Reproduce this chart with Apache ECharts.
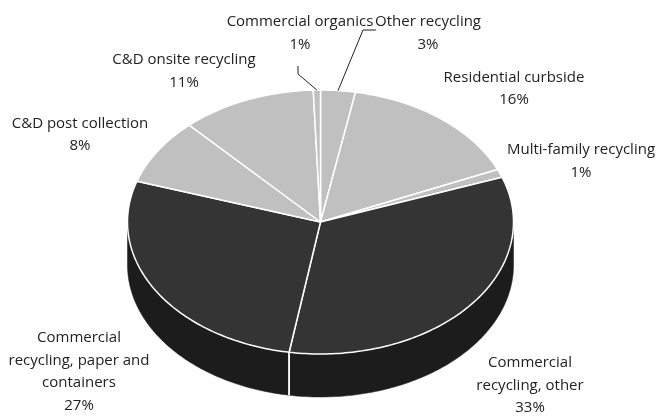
<!DOCTYPE html>
<html>
<head>
<meta charset="utf-8">
<script src="https://cdn.jsdelivr.net/npm/echarts@6/dist/echarts.min.js"></script>
<style>
  html, body { margin: 0; padding: 0; background: #ffffff; }
  #chart { width: 656px; height: 417px; }
</style>
</head>
<body>
<div id="chart"></div>
<script>
// Recycling tonnage by program, share of total (clockwise from 12 o'clock)
const categories = [
  'Other recycling',
  'Residential curbside',
  'Multi-family recycling',
  'Commercial recycling, other',
  'Commercial recycling, paper and containers',
  'C&D post collection',
  'C&D onsite recycling',
  'Commercial organics'
];
const labelText = [
  'Other recycling',
  'Residential curbside',
  'Multi-family recycling',
  'Commercial\nrecycling, other',
  'Commercial\nrecycling, paper and\ncontainers',
  'C&D post collection',
  'C&D onsite recycling',
  'Commercial organics'
];
const shares = [2.9, 15.6, 1.0, 33.1, 27.4, 8.1, 11.3, 0.6];
const shade = ['light', 'light', 'light', 'dark', 'dark', 'light', 'light', 'light'];

// ---- layout / styling ----
const PIE = { cx: 320.5, cy: 222, rx: 193, ry: 132, depth: 43 };
const COLORS = {
  light: { top: '#c0c0c0', side: '#8c8c8c' },
  dark:  { top: '#343434', side: '#1c1c1c' }
};
const LABEL_AT = [[428, 33], [514, 88.5], [581, 161], [530, 385.5], [79, 371.5], [80, 134.5], [184, 71], [300, 33]];
const LEADER_BEND = { 0: [[376, 30], [363, 30]], 7: [[298, 66], [298, 74]] };
const FONT = '15px "Open Sans", "Noto Sans", sans-serif';

const total = shares.reduce((a, b) => a + b, 0);
const starts = [];
let acc = 0;
shares.forEach(v => { starts.push(acc / total * Math.PI * 2); acc += v; });
const ends = starts.map((s, i) => s + shares[i] / total * Math.PI * 2);

function pt(theta, dy) {
  return [PIE.cx + PIE.rx * Math.sin(theta), PIE.cy - PIE.ry * Math.cos(theta) + (dy || 0)];
}
function arc(a0, a1, dy) {
  const n = Math.max(2, Math.ceil((a1 - a0) / (Math.PI / 180)));
  const out = [];
  for (let k = 0; k <= n; k++) out.push(pt(a0 + (a1 - a0) * k / n, dy));
  return out;
}

function renderSlice(params, api) {
  const i = params.dataIndex;
  const a = starts[i], b = ends[i];
  const col = COLORS[shade[i]];
  const children = [];

  // front wall (only the part facing the viewer, 90°..270°)
  const w0 = Math.max(a, Math.PI / 2), w1 = Math.min(b, Math.PI * 1.5);
  if (w1 > w0) {
    const top = arc(w0, w1, 0);
    const bottom = arc(w0, w1, PIE.depth).reverse();
    children.push({
      type: 'polygon', z2: 0,
      shape: { points: top.concat(bottom) },
      style: { fill: col.side, stroke: col.side, lineWidth: 0.5 }
    });
    [a, b].forEach(t => {
      if (t > Math.PI / 2 + 1e-6 && t < Math.PI * 1.5 - 1e-6) {
        const p = pt(t, 0), q = pt(t, PIE.depth);
        children.push({
          type: 'line', z2: 5,
          shape: { x1: p[0], y1: p[1], x2: q[0], y2: q[1] },
          style: { stroke: '#ffffff', lineWidth: 1.5 }
        });
      }
    });
  }

  // top face
  children.push({
    type: 'polygon', z2: 10,
    shape: { points: [[PIE.cx, PIE.cy]].concat(arc(a, b, 0)) },
    style: { fill: col.top, stroke: '#ffffff', lineWidth: 1.5, lineJoin: 'round' }
  });

  // label
  const pct = Math.round(api.value(0) / total * 100) + '%';
  children.push({
    type: 'text', z2: 20,
    x: LABEL_AT[i][0], y: LABEL_AT[i][1],
    style: {
      text: labelText[i] + '\n' + pct,
      font: FONT, fill: '#222222',
      align: 'center', verticalAlign: 'middle', lineHeight: 22.5
    }
  });

  // leader line for thin slices
  if (LEADER_BEND[i]) {
    const mid = pt((a + b) / 2, 0);
    children.push({
      type: 'polyline', z2: 20,
      shape: { points: LEADER_BEND[i].concat([mid]) },
      style: { stroke: '#222222', lineWidth: 1, fill: null }
    });
  }

  return { type: 'group', children };
}

const chart = echarts.init(document.getElementById('chart'), null, { renderer: 'canvas' });
chart.setOption({
  animation: false,
  backgroundColor: '#ffffff',
  series: [{
    type: 'custom',
    coordinateSystem: 'none',
    renderItem: renderSlice,
    data: shares.map((v, i) => ({ name: categories[i], value: [v] }))
  }]
});
</script>
</body>
</html>
